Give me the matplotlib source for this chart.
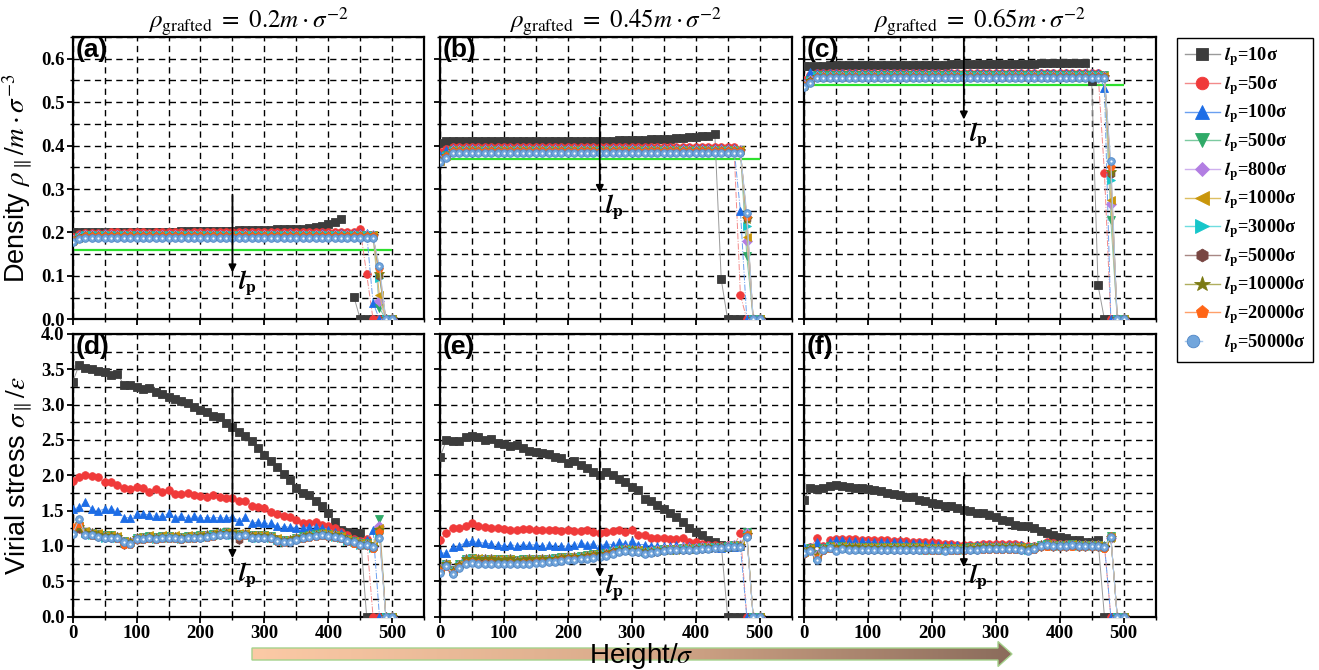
import numpy as np
import matplotlib
matplotlib.use("Agg")
import matplotlib.pyplot as plt
from matplotlib.lines import Line2D
from matplotlib.legend_handler import HandlerTuple
from matplotlib.patches import Polygon
from matplotlib.colors import LinearSegmentedColormap
from matplotlib.ticker import MultipleLocator, FormatStrFormatter

nan = np.nan

# ---------------- data ----------------
HEIGHT = list(range(0, 510, 10))          # bin centres (sigma)
LP_LABELS = ['10', '50', '100', '500', '800', '1000', '3000', '5000', '10000', '20000', '50000']
RHO_GRAFTED = ['0.2', '0.45', '0.65']
REF_DENSITY = [0.16, 0.37, 0.54]           # green reference lines

# ---- panel (a): density, rho_g = 0.2
dens_a = [
    [0.200,0.201,0.201,0.201,0.201,0.201,0.201,0.201,0.201,0.201,
     0.202,0.202,0.202,0.202,0.202,0.202,0.202,0.203,0.203,0.203,
     0.203,0.203,0.204,0.204,0.204,0.204,0.205,0.205,0.205,0.206,
     0.206,0.206,0.207,0.207,0.208,0.208,0.209,0.210,0.212,0.215,
     0.219,0.223,0.232,nan,0.052,0,0,0,0,0,0],
    [0.190,0.196,0.198,0.199,0.199,0.199,0.200,0.200,0.199,0.200,
     0.200,0.200,0.199,0.200,0.200,0.200,0.200,0.200,0.199,0.200,
     0.200,0.200,0.200,0.200,0.200,0.200,0.200,0.200,0.200,0.201,
     0.200,0.200,0.201,0.200,0.200,0.201,0.200,0.201,0.200,0.201,
     0.200,0.201,0.201,0.201,0.201,0.207,0.104,0,0,0,0],
    [0.185,0.195,0.197,0.197,0.197,0.198,0.197,0.197,0.197,0.197,
     0.197,0.197,0.197,0.197,0.197,0.197,0.197,0.197,0.197,0.197,
     0.197,0.197,0.197,0.197,0.197,0.197,0.197,0.198,0.197,0.197,
     0.197,0.197,0.197,0.197,0.198,0.197,0.197,0.197,0.197,0.198,
     0.197,0.197,0.198,0.197,0.198,0.198,0.198,0.038,0,0,0],
    [0.183,0.190,0.195,0.195,0.195,0.195,0.195,0.195,0.195,0.195,
     0.195,0.195,0.195,0.195,0.195,0.195,0.195,0.195,0.195,0.195,
     0.195,0.195,0.195,0.195,0.195,0.195,0.195,0.195,0.195,0.195,
     0.195,0.195,0.195,0.195,0.195,0.195,0.195,0.195,0.195,0.195,
     0.195,0.195,0.195,0.195,0.195,0.195,0.195,0.195,0.026,0,0],
    [0.182,0.189,0.194,0.194,0.194,0.194,0.194,0.194,0.194,0.194,
     0.194,0.194,0.194,0.194,0.194,0.194,0.194,0.194,0.194,0.194,
     0.194,0.194,0.194,0.194,0.194,0.194,0.194,0.194,0.194,0.194,
     0.194,0.194,0.194,0.194,0.194,0.194,0.194,0.194,0.194,0.194,
     0.194,0.194,0.194,0.194,0.194,0.194,0.194,0.194,0.043,0,0],
    [0.182,0.189,0.194,0.194,0.194,0.194,0.194,0.194,0.194,0.194,
     0.194,0.194,0.194,0.194,0.194,0.194,0.194,0.194,0.194,0.194,
     0.194,0.194,0.194,0.194,0.194,0.194,0.194,0.194,0.194,0.194,
     0.194,0.194,0.194,0.194,0.194,0.194,0.194,0.194,0.194,0.194,
     0.194,0.194,0.194,0.194,0.194,0.194,0.194,0.194,0.055,0,0],
    [0.181,0.188,0.193,0.193,0.193,0.193,0.193,0.193,0.193,0.193,
     0.193,0.193,0.193,0.193,0.193,0.193,0.193,0.193,0.193,0.193,
     0.193,0.193,0.193,0.193,0.193,0.193,0.193,0.193,0.193,0.193,
     0.193,0.193,0.193,0.193,0.193,0.193,0.193,0.193,0.193,0.193,
     0.193,0.193,0.193,0.193,0.193,0.193,0.193,0.193,0.095,0,0],
    [0.181,0.188,0.192,0.192,0.192,0.192,0.192,0.192,0.192,0.192,
     0.192,0.192,0.192,0.192,0.192,0.192,0.192,0.192,0.192,0.192,
     0.192,0.192,0.192,0.192,0.192,0.192,0.192,0.192,0.192,0.192,
     0.192,0.192,0.192,0.192,0.192,0.192,0.192,0.192,0.192,0.192,
     0.192,0.192,0.192,0.192,0.192,0.192,0.192,0.192,0.100,0,0],
    [0.180,0.187,0.192,0.192,0.192,0.192,0.192,0.192,0.192,0.192,
     0.192,0.192,0.192,0.192,0.192,0.192,0.192,0.192,0.192,0.192,
     0.192,0.192,0.192,0.192,0.192,0.192,0.192,0.192,0.192,0.192,
     0.192,0.192,0.192,0.192,0.192,0.192,0.192,0.192,0.192,0.192,
     0.192,0.192,0.192,0.192,0.192,0.192,0.192,0.192,0.105,0,0],
    [0.180,0.187,0.191,0.191,0.191,0.191,0.191,0.191,0.191,0.191,
     0.191,0.191,0.191,0.191,0.191,0.191,0.191,0.191,0.191,0.191,
     0.191,0.191,0.191,0.191,0.191,0.191,0.191,0.191,0.191,0.191,
     0.191,0.191,0.191,0.191,0.191,0.191,0.191,0.191,0.191,0.191,
     0.191,0.191,0.191,0.191,0.191,0.191,0.191,0.191,0.115,0,0],
    [0.178,0.184,0.188,0.188,0.188,0.188,0.188,0.188,0.188,0.188,
     0.188,0.188,0.188,0.188,0.188,0.188,0.188,0.188,0.188,0.188,
     0.188,0.188,0.188,0.188,0.188,0.188,0.188,0.188,0.188,0.188,
     0.188,0.188,0.188,0.188,0.188,0.188,0.188,0.188,0.188,0.188,
     0.188,0.188,0.188,0.188,0.188,0.188,0.188,0.188,0.123,0,0],
]

# ---- panel (b): density, rho_g = 0.45
dens_b = [
    [0.405,0.410,0.410,0.410,0.410,0.410,0.410,0.410,0.410,0.410,
     0.410,0.410,0.410,0.410,0.410,0.410,0.410,0.410,0.410,0.410,
     0.410,0.410,0.411,0.411,0.411,0.411,0.411,0.411,0.412,0.412,
     0.412,0.413,0.413,0.414,0.414,0.415,0.416,0.417,0.418,0.419,
     0.420,0.422,0.423,0.426,0.092,0,0,0,0,0,0],
    [0.385,0.393,0.396,0.397,0.397,0.397,0.397,0.397,0.397,0.397,
     0.397,0.397,0.397,0.397,0.397,0.397,0.397,0.397,0.397,0.397,
     0.397,0.397,0.397,0.397,0.397,0.397,0.397,0.397,0.397,0.397,
     0.397,0.397,0.397,0.397,0.397,0.397,0.397,0.397,0.397,0.397,
     0.397,0.397,0.397,0.397,0.397,0.397,0.397,0.056,0,0,0],
    [0.378,0.390,0.394,0.394,0.394,0.394,0.394,0.394,0.394,0.394,
     0.394,0.394,0.394,0.394,0.394,0.394,0.394,0.394,0.394,0.394,
     0.394,0.394,0.394,0.394,0.394,0.394,0.394,0.394,0.394,0.394,
     0.394,0.394,0.394,0.394,0.394,0.394,0.394,0.394,0.394,0.394,
     0.394,0.394,0.394,0.394,0.394,0.394,0.394,0.250,0,0,0],
    [0.366,0.378,0.390,0.390,0.390,0.390,0.390,0.390,0.390,0.390,
     0.390,0.390,0.390,0.390,0.390,0.390,0.390,0.390,0.390,0.390,
     0.390,0.390,0.390,0.390,0.390,0.390,0.390,0.390,0.390,0.390,
     0.390,0.390,0.390,0.390,0.390,0.390,0.390,0.390,0.390,0.390,
     0.390,0.390,0.390,0.390,0.390,0.390,0.390,0.390,0.145,0,0],
    [0.366,0.377,0.389,0.389,0.389,0.389,0.389,0.389,0.389,0.389,
     0.389,0.389,0.389,0.389,0.389,0.389,0.389,0.389,0.389,0.389,
     0.389,0.389,0.389,0.389,0.389,0.389,0.389,0.389,0.389,0.389,
     0.389,0.389,0.389,0.389,0.389,0.389,0.389,0.389,0.389,0.389,
     0.389,0.389,0.389,0.389,0.389,0.389,0.389,0.389,0.180,0,0],
    [0.365,0.377,0.389,0.389,0.389,0.389,0.389,0.389,0.389,0.389,
     0.389,0.389,0.389,0.389,0.389,0.389,0.389,0.389,0.389,0.389,
     0.389,0.389,0.389,0.389,0.389,0.389,0.389,0.389,0.389,0.389,
     0.389,0.389,0.389,0.389,0.389,0.389,0.389,0.389,0.389,0.389,
     0.389,0.389,0.389,0.389,0.389,0.389,0.389,0.389,0.190,0,0],
    [0.365,0.376,0.388,0.388,0.388,0.388,0.388,0.388,0.388,0.388,
     0.388,0.388,0.388,0.388,0.388,0.388,0.388,0.388,0.388,0.388,
     0.388,0.388,0.388,0.388,0.388,0.388,0.388,0.388,0.388,0.388,
     0.388,0.388,0.388,0.388,0.388,0.388,0.388,0.388,0.388,0.388,
     0.388,0.388,0.388,0.388,0.388,0.388,0.388,0.388,0.215,0,0],
    [0.364,0.376,0.388,0.388,0.388,0.388,0.388,0.388,0.388,0.388,
     0.388,0.388,0.388,0.388,0.388,0.388,0.388,0.388,0.388,0.388,
     0.388,0.388,0.388,0.388,0.388,0.388,0.388,0.388,0.388,0.388,
     0.388,0.388,0.388,0.388,0.388,0.388,0.388,0.388,0.388,0.388,
     0.388,0.388,0.388,0.388,0.388,0.388,0.388,0.388,0.230,0,0],
    [0.364,0.375,0.387,0.387,0.387,0.387,0.387,0.387,0.387,0.387,
     0.387,0.387,0.387,0.387,0.387,0.387,0.387,0.387,0.387,0.387,
     0.387,0.387,0.387,0.387,0.387,0.387,0.387,0.387,0.387,0.387,
     0.387,0.387,0.387,0.387,0.387,0.387,0.387,0.387,0.387,0.387,
     0.387,0.387,0.387,0.387,0.387,0.387,0.387,0.387,0.232,0,0],
    [0.363,0.375,0.387,0.387,0.387,0.387,0.387,0.387,0.387,0.387,
     0.387,0.387,0.387,0.387,0.387,0.387,0.387,0.387,0.387,0.387,
     0.387,0.387,0.387,0.387,0.387,0.387,0.387,0.387,0.387,0.387,
     0.387,0.387,0.387,0.387,0.387,0.387,0.387,0.387,0.387,0.387,
     0.387,0.387,0.387,0.387,0.387,0.387,0.387,0.387,0.235,0,0],
    [0.362,0.372,0.384,0.384,0.384,0.384,0.384,0.384,0.384,0.384,
     0.384,0.384,0.384,0.384,0.384,0.384,0.384,0.384,0.384,0.384,
     0.384,0.384,0.384,0.384,0.384,0.384,0.384,0.384,0.384,0.384,
     0.384,0.384,0.384,0.384,0.384,0.384,0.384,0.384,0.384,0.384,
     0.384,0.384,0.384,0.384,0.384,0.384,0.384,0.384,0.245,0,0],
]

# ---- panel (c): density, rho_g = 0.65
dens_c = [
    [0.583,0.584,0.584,0.584,0.585,0.585,0.585,0.585,0.585,0.585,
     0.585,0.585,0.585,0.586,0.586,0.586,0.586,0.586,0.586,0.586,
     0.586,0.586,0.586,0.587,0.587,0.587,0.587,0.587,0.587,0.587,
     0.587,0.588,0.588,0.588,0.588,0.588,0.588,0.589,0.589,0.589,
     0.589,0.589,0.590,0.590,0.590,0.549,0.078,0,0,0,0],
    [0.552,0.562,0.568,0.568,0.568,0.568,0.568,0.568,0.568,0.568,
     0.568,0.568,0.568,0.568,0.568,0.568,0.568,0.568,0.568,0.568,
     0.568,0.568,0.568,0.568,0.568,0.568,0.568,0.568,0.568,0.568,
     0.568,0.568,0.568,0.568,0.568,0.568,0.568,0.568,0.568,0.568,
     0.568,0.568,0.568,0.568,0.568,0.568,0.568,0.337,0,0,0],
    [0.545,0.570,0.566,0.566,0.566,0.566,0.566,0.566,0.566,0.566,
     0.566,0.566,0.566,0.566,0.566,0.566,0.566,0.566,0.566,0.566,
     0.566,0.566,0.566,0.566,0.566,0.566,0.566,0.566,0.566,0.566,
     0.566,0.566,0.566,0.566,0.566,0.566,0.566,0.566,0.566,0.566,
     0.566,0.566,0.566,0.566,0.566,0.566,0.566,0.533,0,0,0],
    [0.540,0.550,0.562,0.562,0.562,0.562,0.562,0.562,0.562,0.562,
     0.562,0.562,0.562,0.562,0.562,0.562,0.562,0.562,0.562,0.562,
     0.562,0.562,0.562,0.562,0.562,0.562,0.562,0.562,0.562,0.562,
     0.562,0.562,0.562,0.562,0.562,0.562,0.562,0.562,0.562,0.562,
     0.562,0.562,0.562,0.562,0.562,0.562,0.562,0.562,0.228,0,0],
    [0.540,0.550,0.561,0.561,0.561,0.561,0.561,0.561,0.561,0.561,
     0.561,0.561,0.561,0.561,0.561,0.561,0.561,0.561,0.561,0.561,
     0.561,0.561,0.561,0.561,0.561,0.561,0.561,0.561,0.561,0.561,
     0.561,0.561,0.561,0.561,0.561,0.561,0.561,0.561,0.561,0.561,
     0.561,0.561,0.561,0.561,0.561,0.561,0.561,0.561,0.265,0,0],
    [0.539,0.549,0.561,0.561,0.561,0.561,0.561,0.561,0.561,0.561,
     0.561,0.561,0.561,0.561,0.561,0.561,0.561,0.561,0.561,0.561,
     0.561,0.561,0.561,0.561,0.561,0.561,0.561,0.561,0.561,0.561,
     0.561,0.561,0.561,0.561,0.561,0.561,0.561,0.561,0.561,0.561,
     0.561,0.561,0.561,0.561,0.561,0.561,0.561,0.561,0.275,0,0],
    [0.539,0.549,0.560,0.560,0.560,0.560,0.560,0.560,0.560,0.560,
     0.560,0.560,0.560,0.560,0.560,0.560,0.560,0.560,0.560,0.560,
     0.560,0.560,0.560,0.560,0.560,0.560,0.560,0.560,0.560,0.560,
     0.560,0.560,0.560,0.560,0.560,0.560,0.560,0.560,0.560,0.560,
     0.560,0.560,0.560,0.560,0.560,0.560,0.560,0.560,0.320,0,0],
    [0.538,0.548,0.559,0.559,0.559,0.559,0.559,0.559,0.559,0.559,
     0.559,0.559,0.559,0.559,0.559,0.559,0.559,0.559,0.559,0.559,
     0.559,0.559,0.559,0.559,0.559,0.559,0.559,0.559,0.559,0.559,
     0.559,0.559,0.559,0.559,0.559,0.559,0.559,0.559,0.559,0.559,
     0.559,0.559,0.559,0.559,0.559,0.559,0.559,0.559,0.335,0,0],
    [0.538,0.548,0.559,0.559,0.559,0.559,0.559,0.559,0.559,0.559,
     0.559,0.559,0.559,0.559,0.559,0.559,0.559,0.559,0.559,0.559,
     0.559,0.559,0.559,0.559,0.559,0.559,0.559,0.559,0.559,0.559,
     0.559,0.559,0.559,0.559,0.559,0.559,0.559,0.559,0.559,0.559,
     0.559,0.559,0.559,0.559,0.559,0.559,0.559,0.559,0.340,0,0],
    [0.537,0.547,0.558,0.558,0.558,0.558,0.558,0.558,0.558,0.558,
     0.558,0.558,0.558,0.558,0.558,0.558,0.558,0.558,0.558,0.558,
     0.558,0.558,0.558,0.558,0.558,0.558,0.558,0.558,0.558,0.558,
     0.558,0.558,0.558,0.558,0.558,0.558,0.558,0.558,0.558,0.558,
     0.558,0.558,0.558,0.558,0.558,0.558,0.558,0.558,0.350,0,0],
    [0.536,0.545,0.555,0.555,0.555,0.555,0.555,0.555,0.555,0.555,
     0.555,0.555,0.555,0.555,0.555,0.555,0.555,0.555,0.555,0.555,
     0.555,0.555,0.555,0.555,0.555,0.555,0.555,0.555,0.555,0.555,
     0.555,0.555,0.555,0.555,0.555,0.555,0.555,0.555,0.555,0.555,
     0.555,0.555,0.555,0.555,0.555,0.555,0.555,0.555,0.364,0,0],
]

# ---- panel (d): virial stress, rho_g = 0.2
stress_d = [
    [3.32,3.56,3.52,3.50,3.47,3.46,3.42,3.44,3.28,3.28,
     3.25,3.22,3.24,3.18,3.15,3.11,3.08,3.05,3.02,2.97,
     2.93,2.90,2.84,2.82,2.74,2.69,2.61,2.55,2.48,2.38,
     2.29,2.20,2.12,2.02,1.94,1.82,1.75,1.72,1.63,1.56,
     1.47,1.34,1.23,1.20,1.18,1.18,0,0,0,0,0],
    [1.92,1.98,2.00,1.99,1.97,1.90,1.90,1.87,1.82,1.80,
     1.84,1.82,1.77,1.80,1.77,1.79,1.74,1.74,1.75,1.72,
     1.71,1.70,1.72,1.70,1.68,1.68,1.63,1.64,1.57,1.55,
     1.54,1.48,1.45,1.43,1.41,1.37,1.33,1.33,1.34,1.30,
     1.28,1.25,1.20,1.15,1.10,1.07,1.10,0,0,0,0],
    [1.52,1.55,1.62,1.52,1.50,1.52,1.52,1.50,1.40,1.40,
     1.45,1.45,1.44,1.42,1.42,1.46,1.40,1.42,1.40,1.42,
     1.40,1.40,1.40,1.40,1.40,1.41,1.36,1.41,1.32,1.34,
     1.32,1.32,1.28,1.27,1.27,1.26,1.25,1.27,1.27,1.26,
     1.23,1.20,1.18,1.12,1.08,1.05,1.08,1.23,0,0,0],
    [1.24,1.28,1.20,1.19,1.17,1.15,1.15,1.13,1.07,1.06,
     1.12,1.13,1.14,1.13,1.14,1.14,1.13,1.13,1.14,1.14,
     1.15,1.16,1.17,1.19,1.20,1.19,1.17,1.17,1.15,1.15,
     1.15,1.14,1.10,1.08,1.09,1.12,1.14,1.16,1.17,1.18,
     1.17,1.16,1.14,1.10,1.07,1.04,1.04,1.00,1.38,0,0],
    [1.23,1.27,1.19,1.18,1.16,1.14,1.13,1.13,1.06,1.05,
     1.11,1.12,1.13,1.12,1.13,1.13,1.13,1.12,1.13,1.13,
     1.14,1.15,1.16,1.18,1.19,1.18,1.16,1.17,1.14,1.14,
     1.14,1.13,1.09,1.07,1.08,1.11,1.13,1.15,1.16,1.17,
     1.16,1.15,1.13,1.09,1.06,1.03,1.03,0.99,1.28,0,0],
    [1.25,1.29,1.21,1.18,1.18,1.15,1.16,1.14,1.07,1.05,
     1.13,1.12,1.15,1.13,1.15,1.14,1.15,1.13,1.15,1.14,
     1.16,1.16,1.18,1.19,1.20,1.18,1.18,1.18,1.16,1.15,
     1.15,1.13,1.11,1.08,1.10,1.12,1.14,1.16,1.17,1.18,
     1.17,1.15,1.14,1.10,1.07,1.04,1.03,1.00,1.25,0,0],
    [1.21,1.26,1.18,1.16,1.15,1.12,1.13,1.11,1.04,1.04,
     1.10,1.10,1.12,1.10,1.12,1.11,1.12,1.10,1.12,1.11,
     1.13,1.13,1.15,1.16,1.18,1.16,1.15,1.15,1.13,1.12,
     1.13,1.11,1.08,1.05,1.07,1.09,1.12,1.13,1.15,1.15,
     1.15,1.13,1.12,1.07,1.05,1.01,1.02,0.97,1.18,0,0],
    [1.20,1.24,1.17,1.15,1.13,1.12,1.11,1.11,1.02,1.03,
     1.09,1.10,1.11,1.10,1.11,1.11,1.11,1.10,1.11,1.11,
     1.12,1.13,1.14,1.16,1.17,1.16,1.08,1.15,1.12,1.12,
     1.12,1.11,1.07,1.05,1.06,1.09,1.11,1.13,1.14,1.15,
     1.14,1.13,1.11,1.07,1.04,1.01,1.01,0.97,1.20,0,0],
    [1.23,1.27,1.19,1.18,1.16,1.14,1.14,1.13,1.06,1.05,
     1.11,1.12,1.13,1.12,1.13,1.13,1.13,1.12,1.13,1.13,
     1.14,1.15,1.16,1.18,1.19,1.18,1.16,1.17,1.14,1.14,
     1.14,1.13,1.09,1.07,1.08,1.11,1.13,1.15,1.16,1.17,
     1.16,1.15,1.13,1.09,1.06,1.03,1.03,0.99,1.22,0,0],
    [1.27,1.31,1.16,1.14,1.13,1.11,1.11,1.10,1.02,1.01,
     1.08,1.09,1.10,1.09,1.10,1.10,1.10,1.09,1.10,1.10,
     1.11,1.12,1.13,1.15,1.16,1.15,1.13,1.14,1.11,1.11,
     1.11,1.10,1.06,1.04,1.05,1.08,1.10,1.12,1.13,1.14,
     1.13,1.12,1.10,1.06,1.03,1.00,1.00,0.96,1.20,0,0],
    [1.17,1.38,1.16,1.15,1.13,1.12,1.12,1.11,1.05,1.03,
     1.10,1.10,1.11,1.10,1.11,1.11,1.11,1.10,1.11,1.11,
     1.12,1.13,1.14,1.15,1.16,1.15,1.14,1.15,1.12,1.12,
     1.12,1.11,1.07,1.05,1.06,1.09,1.11,1.13,1.14,1.15,
     1.14,1.13,1.11,1.07,1.05,1.02,1.01,0.99,1.12,0,0],
]

# ---- panel (e): virial stress, rho_g = 0.45
stress_e = [
    [2.26,2.50,2.49,2.48,2.54,2.56,2.54,2.50,2.51,2.46,
     2.44,2.41,2.43,2.38,2.35,2.33,2.32,2.30,2.26,2.24,
     2.18,2.20,2.15,2.10,2.05,2.00,2.05,2.00,1.95,1.91,
     1.84,1.79,1.67,1.63,1.58,1.53,1.47,1.41,1.34,1.26,
     1.20,1.16,1.09,1.06,1.02,0,0,0,0,0,0],
    [1.09,1.18,1.25,1.25,1.28,1.33,1.28,1.27,1.26,1.25,
     1.24,1.23,1.22,1.24,1.24,1.23,1.22,1.22,1.23,1.21,
     1.22,1.21,1.21,1.22,1.20,1.19,1.20,1.21,1.22,1.20,
     1.22,1.15,1.15,1.12,1.12,1.12,1.10,1.10,1.12,1.05,
     1.05,1.03,1.02,1.02,1.00,1.02,1.00,1.18,0,0,0],
    [0.90,0.90,0.98,1.00,1.05,1.07,1.05,1.04,1.03,1.02,
     1.00,1.02,1.00,1.02,1.01,1.02,1.00,1.02,1.00,1.00,
     1.00,1.02,1.04,1.02,1.03,1.00,1.03,1.02,1.05,1.03,
     1.07,1.02,1.02,1.00,1.00,1.00,1.00,1.01,1.00,1.00,
     0.98,0.98,0.97,0.98,0.97,0.98,0.98,1.00,0,0,0],
    [0.68,0.75,0.66,0.74,0.82,0.83,0.82,0.82,0.82,0.81,
     0.81,0.82,0.80,0.81,0.82,0.82,0.82,0.82,0.83,0.84,
     0.85,0.85,0.86,0.87,0.88,0.89,0.90,0.93,0.95,0.96,
     0.95,0.94,0.92,0.93,0.94,0.96,0.96,0.96,0.97,0.97,
     0.97,0.98,0.98,0.99,0.99,1.00,1.01,1.01,1.20,0,0],
    [0.67,0.74,0.65,0.73,0.81,0.82,0.81,0.81,0.81,0.80,
     0.80,0.81,0.79,0.80,0.81,0.81,0.81,0.81,0.82,0.83,
     0.84,0.84,0.85,0.86,0.87,0.88,0.90,0.93,0.95,0.96,
     0.95,0.94,0.92,0.93,0.94,0.96,0.96,0.96,0.97,0.97,
     0.97,0.98,0.98,0.99,0.99,1.00,1.01,1.01,1.18,0,0],
    [0.68,0.75,0.65,0.74,0.82,0.83,0.83,0.82,0.82,0.81,
     0.81,0.82,0.80,0.81,0.82,0.82,0.82,0.82,0.83,0.84,
     0.85,0.85,0.86,0.87,0.88,0.89,0.90,0.93,0.95,0.96,
     0.95,0.94,0.92,0.93,0.94,0.96,0.96,0.96,0.97,0.97,
     0.97,0.98,0.98,0.99,0.99,1.00,1.01,1.01,1.17,0,0],
    [0.66,0.73,0.64,0.72,0.80,0.81,0.80,0.80,0.80,0.79,
     0.79,0.80,0.78,0.79,0.80,0.80,0.80,0.80,0.81,0.82,
     0.83,0.83,0.84,0.85,0.86,0.87,0.89,0.92,0.94,0.95,
     0.94,0.93,0.91,0.92,0.93,0.95,0.95,0.95,0.96,0.96,
     0.96,0.97,0.97,0.98,0.98,0.99,1.00,1.00,1.15,0,0],
    [0.65,0.72,0.63,0.71,0.78,0.79,0.78,0.78,0.78,0.77,
     0.77,0.78,0.77,0.78,0.78,0.78,0.79,0.79,0.80,0.81,
     0.82,0.82,0.83,0.84,0.85,0.86,0.88,0.91,0.93,0.94,
     0.93,0.92,0.90,0.91,0.92,0.94,0.94,0.95,0.95,0.95,
     0.96,0.96,0.97,0.97,0.98,0.98,0.99,1.00,1.14,0,0],
    [0.67,0.74,0.64,0.73,0.81,0.82,0.81,0.81,0.81,0.80,
     0.80,0.81,0.79,0.80,0.81,0.81,0.81,0.81,0.82,0.83,
     0.84,0.84,0.85,0.86,0.87,0.88,0.89,0.92,0.94,0.95,
     0.94,0.93,0.91,0.92,0.93,0.95,0.95,0.95,0.96,0.96,
     0.96,0.97,0.97,0.98,0.98,0.99,1.00,1.00,1.16,0,0],
    [0.64,0.70,0.62,0.70,0.76,0.77,0.76,0.76,0.76,0.75,
     0.75,0.76,0.75,0.76,0.76,0.77,0.77,0.78,0.79,0.80,
     0.81,0.81,0.82,0.83,0.84,0.85,0.87,0.90,0.92,0.93,
     0.92,0.91,0.89,0.90,0.91,0.93,0.94,0.94,0.95,0.95,
     0.95,0.96,0.96,0.97,0.97,0.98,0.99,0.99,1.15,0,0],
    [0.62,0.71,0.61,0.69,0.75,0.76,0.75,0.75,0.75,0.74,
     0.74,0.75,0.74,0.75,0.75,0.76,0.76,0.77,0.78,0.79,
     0.80,0.80,0.81,0.82,0.83,0.84,0.86,0.89,0.92,0.93,
     0.92,0.91,0.89,0.90,0.91,0.93,0.94,0.94,0.95,0.95,
     0.95,0.96,0.96,0.97,0.97,0.98,0.99,0.99,1.13,0,0],
]

# ---- panel (f): virial stress, rho_g = 0.65
stress_f = [
    [1.65,1.82,1.80,1.82,1.85,1.86,1.85,1.84,1.82,1.82,
     1.80,1.79,1.78,1.75,1.74,1.72,1.70,1.69,1.65,1.63,
     1.61,1.59,1.57,1.56,1.54,1.51,1.49,1.47,1.46,1.44,
     1.41,1.37,1.35,1.30,1.28,1.28,1.25,1.21,1.18,1.16,
     1.13,1.11,1.09,1.08,1.06,1.06,1.08,0,0,0,0],
    [0.94,0.98,1.11,1.00,1.08,1.10,1.10,1.10,1.10,1.09,
     1.09,1.08,1.08,1.08,1.07,1.07,1.07,1.06,1.06,1.05,
     1.05,1.04,1.03,1.03,1.02,1.01,1.01,1.02,1.03,1.03,
     1.03,1.03,1.03,1.03,1.02,1.00,1.00,1.02,1.05,1.04,
     1.03,1.03,1.03,1.02,1.02,1.02,1.02,1.00,0,0,0],
    [0.98,0.98,1.05,0.98,1.06,1.08,1.08,1.07,1.07,1.07,
     1.06,1.06,1.06,1.05,1.05,1.05,1.04,1.04,1.04,1.03,
     1.03,1.02,1.02,1.01,1.01,1.00,1.00,1.01,1.02,1.02,
     1.02,1.02,1.02,1.02,1.01,0.99,1.00,1.02,1.04,1.03,
     1.02,1.02,1.02,1.02,1.01,1.01,1.01,1.02,0,0,0],
    [0.92,0.97,0.88,0.97,1.00,0.99,1.00,0.99,0.99,0.98,
     0.98,0.98,0.98,0.98,0.98,0.98,0.98,0.98,0.98,0.97,
     0.97,0.97,0.97,0.97,0.97,0.97,0.98,0.98,0.99,0.99,
     0.99,0.99,0.99,0.99,0.98,0.97,0.99,1.02,1.03,1.02,
     1.02,1.02,1.03,1.02,1.02,1.02,1.02,1.00,1.14,0,0],
    [0.91,0.96,0.87,0.96,0.99,0.98,0.99,0.98,0.98,0.97,
     0.97,0.97,0.97,0.97,0.97,0.97,0.97,0.97,0.97,0.96,
     0.96,0.96,0.96,0.96,0.96,0.96,0.97,0.97,0.98,0.98,
     0.98,0.98,0.98,0.98,0.97,0.96,0.98,1.01,1.02,1.01,
     1.01,1.01,1.02,1.01,1.01,1.01,1.01,0.99,1.12,0,0],
    [0.92,0.97,0.86,0.97,1.00,0.98,1.00,0.99,0.99,0.98,
     0.98,0.98,0.98,0.98,0.98,0.98,0.98,0.98,0.98,0.97,
     0.97,0.97,0.97,0.97,0.97,0.97,0.98,0.98,0.99,0.99,
     0.99,0.99,0.99,0.99,0.98,0.97,0.99,1.02,1.03,1.02,
     1.02,1.02,1.03,1.02,1.02,1.02,1.02,1.00,1.13,0,0],
    [0.90,0.95,0.85,0.95,0.98,0.97,0.98,0.97,0.97,0.96,
     0.96,0.96,0.96,0.96,0.96,0.96,0.96,0.96,0.96,0.95,
     0.95,0.95,0.95,0.95,0.95,0.95,0.96,0.96,0.97,0.97,
     0.97,0.97,0.97,0.97,0.96,0.95,0.97,1.00,1.01,1.00,
     1.00,1.00,1.01,1.00,1.00,1.00,1.00,0.98,1.12,0,0],
    [0.89,0.94,0.84,0.94,0.97,0.95,0.97,0.96,0.96,0.95,
     0.95,0.95,0.95,0.95,0.95,0.95,0.95,0.95,0.95,0.94,
     0.94,0.94,0.94,0.94,0.94,0.94,0.95,0.95,0.96,0.96,
     0.96,0.96,0.96,0.96,0.95,0.94,0.96,0.99,1.00,0.99,
     0.99,0.99,1.00,0.99,0.99,0.99,0.99,0.97,1.12,0,0],
    [0.91,0.96,0.86,0.96,0.99,0.97,0.99,0.98,0.98,0.97,
     0.97,0.97,0.97,0.97,0.97,0.97,0.97,0.97,0.97,0.96,
     0.96,0.96,0.96,0.96,0.96,0.96,0.97,0.97,0.98,0.98,
     0.98,0.98,0.98,0.98,0.97,0.96,0.98,1.01,1.02,1.01,
     1.01,1.01,1.02,1.01,1.01,1.01,1.01,0.99,1.12,0,0],
    [0.88,0.93,0.83,0.93,0.96,0.94,0.96,0.95,0.95,0.94,
     0.94,0.94,0.94,0.94,0.94,0.94,0.94,0.94,0.94,0.93,
     0.93,0.93,0.93,0.93,0.93,0.93,0.94,0.94,0.95,0.95,
     0.95,0.95,0.95,0.95,0.94,0.93,0.95,0.98,0.99,0.98,
     0.98,0.98,0.99,0.98,0.98,0.98,0.98,0.96,1.14,0,0],
    [0.90,0.93,0.80,0.94,0.97,0.93,0.96,0.95,0.95,0.94,
     0.95,0.95,0.94,0.95,0.95,0.95,0.95,0.95,0.95,0.94,
     0.94,0.94,0.93,0.94,0.94,0.94,0.95,0.95,0.96,0.96,
     0.96,0.96,0.96,0.96,0.95,0.93,0.96,1.00,1.01,1.00,
     1.00,1.00,1.01,1.00,1.00,1.00,1.00,0.98,1.13,0,0],
]

# l_p arrow annotations: (start, tip, label y) per panel
LP_ARROW_X = 250
LP_DENS = [(0.287, 0.108, 0.085), (0.464, 0.291, 0.26), (0.648, 0.46, 0.425)]
LP_STRESS = [(3.23, 0.83, 0.59), (2.38, 0.56, 0.42), (1.98, 0.70, 0.57)]

# ---------------- style ----------------
plt.rcParams['mathtext.fontset'] = 'stix'
plt.rcParams['font.family'] = ['Liberation Serif', 'DejaVu Sans']
plt.rcParams['axes.linewidth'] = 1.6

COLORS = ['#3c3c3c', '#f03a3a', '#1d6de6', '#2faa68', '#b27ee2', '#c9960b',
          '#16c6ca', '#784541', '#7b7a13', '#ff6516', '#72a6dc']
EDGES = ['#3c3c3c', '#f03a3a', '#1d6de6', '#2faa68', '#b27ee2', '#c9960b',
         '#16c6ca', '#784541', '#7b7a13', '#ff6516', '#4f86c6']
LINE_COLORS = ['#9a9a9a', '#f38a8a', '#6a9ff0', '#7ccaa0', '#cfb0ee', '#ddbf63',
               '#6fdde0', '#a88784', '#b0ae5e', '#ffa06a', '#a8c8ec']
LINE_STYLES = ['-', '-.', '-.', '-', '-', '-', '-', '-', '-', '-', '-']
MARKERS = ['s', 'o', '^', 'v', 'D', '<', '>', 'h', '*', 'p', 'o']
MSIZE = [5.2, 5.5, 5.8, 5.8, 4.6, 5.8, 5.8, 5.6, 7.0, 5.8, 5.5]

fig = plt.figure(figsize=(13.19, 6.70), dpi=100)

lefts = [0.0551, 0.3336, 0.6096]
width = 0.2665
top_b, top_h = 0.5234, 0.4214
bot_b, bot_h = 0.0796, 0.4219

panel_letters = ['(a)', '(b)', '(c)', '(d)', '(e)', '(f)']
dens_sets = [dens_a, dens_b, dens_c]
stress_sets = [stress_d, stress_e, stress_f]


def draw_series(ax, series):
    for k, ys in enumerate(series):
        ax.plot(HEIGHT, ys, color=LINE_COLORS[k], lw=0.7, ls=LINE_STYLES[k],
                marker=MARKERS[k], ms=MSIZE[k], mfc=COLORS[k], mec=EDGES[k],
                mew=0.6, zorder=3 + k * 0.1)
        if k == len(series) - 1:
            ax.plot(HEIGHT, ys, ls='none', marker='o', ms=1.6, mfc='white',
                    mec='none', zorder=4.5)


def style_axis(ax, top, col):
    ax.set_xlim(0, 550)
    ax.xaxis.set_major_locator(MultipleLocator(100))
    ax.xaxis.set_minor_locator(MultipleLocator(50))
    if top:
        ax.set_ylim(0, 0.65)
        ax.yaxis.set_major_locator(MultipleLocator(0.1))
        ax.yaxis.set_minor_locator(MultipleLocator(0.05))
    else:
        ax.set_ylim(0, 4.0)
        ax.yaxis.set_major_locator(MultipleLocator(0.5))
        ax.yaxis.set_minor_locator(MultipleLocator(0.25))
    ax.yaxis.set_major_formatter(FormatStrFormatter('%.1f'))
    ax.grid(which='both', color='black', ls=(0, (4.5, 3.2)), lw=1.0, zorder=1)
    ax.set_axisbelow(True)
    ax.tick_params(which='major', direction='out', length=4, width=1.3,
                   labelsize=13.5, pad=2)
    ax.tick_params(which='minor', direction='out', length=2.5, width=1.0)
    for lbl in ax.get_xticklabels() + ax.get_yticklabels():
        lbl.set_fontweight('bold')
        lbl.set_fontfamily('Liberation Serif')
    if top:
        ax.tick_params(labelbottom=False)
    if col > 0:
        ax.tick_params(labelleft=False)


lp_text = r'$\mathbfit{l}_{\mathbf{p}}$'

for col in range(3):
    # density panel
    ax = fig.add_axes([lefts[col], top_b, width, top_h])
    draw_series(ax, dens_sets[col])
    ax.hlines(REF_DENSITY[col], HEIGHT[0], HEIGHT[-1], color='#2ee02e', lw=1.6, zorder=2.5)
    style_axis(ax, True, col)
    s, t, ly = LP_DENS[col]
    ax.annotate('', xy=(LP_ARROW_X, t), xytext=(LP_ARROW_X, s),
                arrowprops=dict(arrowstyle='-|>', color='black', lw=1.3,
                                mutation_scale=11, shrinkA=0, shrinkB=0), zorder=8)
    ax.text(LP_ARROW_X + 8, ly, lp_text, fontsize=18, va='center', ha='left', zorder=8)
    ax.text(0.008, 0.995, panel_letters[col], transform=ax.transAxes, fontsize=19,
            fontweight='bold', family='Liberation Sans', va='top', ha='left', zorder=9)
    ax.set_title(r'$\rho_{\mathrm{grafted}}\ =\ ' + RHO_GRAFTED[col] + r'm\cdot\sigma^{-2}$',
                 fontsize=18, pad=5)
    if col == 0:
        ax.set_ylabel(r'Density $\rho_{\parallel}/m\cdot\sigma^{-3}$', fontsize=19.5,
                      family='Liberation Sans', labelpad=4)

    # stress panel
    ax2 = fig.add_axes([lefts[col], bot_b, width, bot_h])
    draw_series(ax2, stress_sets[col])
    style_axis(ax2, False, col)
    s, t, ly = LP_STRESS[col]
    ax2.annotate('', xy=(LP_ARROW_X, t), xytext=(LP_ARROW_X, s),
                 arrowprops=dict(arrowstyle='-|>', color='black', lw=1.3,
                                 mutation_scale=11, shrinkA=0, shrinkB=0), zorder=8)
    ax2.text(LP_ARROW_X + 8, ly, lp_text, fontsize=18, va='center', ha='left', zorder=8)
    ax2.text(0.008, 0.995, panel_letters[col + 3], transform=ax2.transAxes, fontsize=19,
             fontweight='bold', family='Liberation Sans', va='top', ha='left', zorder=9)
    if col == 0:
        ax2.set_ylabel(r'Virial stress $\sigma_{\parallel}/\varepsilon$', fontsize=19.5,
                       family='Liberation Sans', labelpad=4)

# legend
handles = []
for k in range(len(LP_LABELS)):
    h = Line2D([], [], color=LINE_COLORS[k], lw=1.0, marker=MARKERS[k],
               ms=MSIZE[k] * 1.65, mfc=COLORS[k], mec=EDGES[k], mew=0.6)
    if k == len(LP_LABELS) - 1:
        h2 = Line2D([], [], ls='none', marker='o', ms=3, mfc='white', mec='none')
        h = (h, h2)
    handles.append(h)
labels = [lp_text + '=' + v + 'σ' for v in LP_LABELS]
leg = fig.legend(handles, labels, loc='upper left', bbox_to_anchor=(0.8925, 0.943),
                 frameon=True, fancybox=False, edgecolor='black', framealpha=1,
                 handlelength=1.95, handletextpad=0.2, labelspacing=0.33,
                 borderpad=0.4, borderaxespad=0,
                 prop={'family': 'Liberation Serif', 'weight': 'bold', 'size': 13.2},
                 handler_map={tuple: HandlerTuple(ndivide=None, pad=0)})
leg.get_frame().set_linewidth(1.0)

# bottom gradient arrow with x label
ov = fig.add_axes([0, 0, 1, 1], zorder=-1)
ov.set_xlim(0, 1319)
ov.set_ylim(670, 0)
ov.axis('off')
verts = [(252, 648), (998, 648), (998, 641.5), (1012, 654), (998, 666.5), (998, 660), (252, 660)]
poly = Polygon(verts, closed=True, facecolor='none', edgecolor='#a5d28c', lw=1.0)
ov.add_patch(poly)
cmap = LinearSegmentedColormap.from_list('grad', ['#fccaa6', '#d9ab8b', '#8b6c5c'])
im = ov.imshow(np.linspace(0, 1, 256)[None, :], cmap=cmap, aspect='auto',
               extent=(252, 1012, 667, 641), interpolation='bilinear')
im.set_clip_path(poly)
fig.text(0.486, 0.011, r'Height/$\sigma$', fontsize=20, family='Liberation Sans',
         ha='center', va='baseline')

fig.savefig('out.png', dpi=100)
